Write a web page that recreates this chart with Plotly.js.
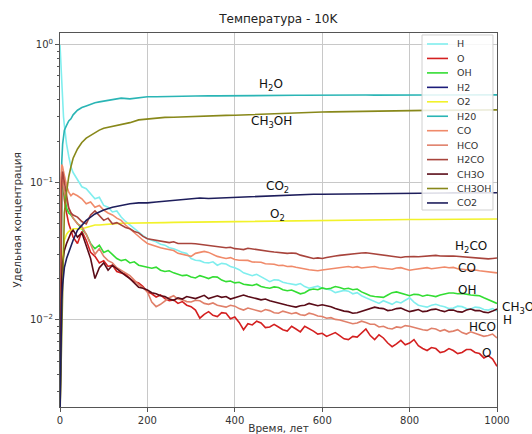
<!DOCTYPE html>
<html><head><meta charset="utf-8">
<script src="https://cdn.plot.ly/plotly-3.0.1.min.js"></script>
<style>html,body{margin:0;padding:0;background:#fff}#chart{width:532px;height:434px}</style>
</head><body><div id="chart"></div>
<script>
// time grid for the noisy species
const T_N = [0,2,4,6,8,10,15,20,25,
  30,40,50,60,70,80,90,100,110,120,
  130,140,150,160,170,180,190,200,210,220,
  230,240,250,260,270,280,290,300,310,320,
  330,340,350,360,370,380,390,400,410,420,
  430,440,450,460,470,480,490,500,510,520,
  530,540,550,560,570,580,590,600,610,620,
  630,640,650,660,670,680,690,700,710,720,
  730,740,750,760,770,780,790,800,810,820,
  830,840,850,860,870,880,890,900,910,920,
  930,940,950,960,970,980,990,1000];
// time grid for the smooth species
const T_S = [0,2,4,6,8,10,15,20,25,30,40,50,60,70,80,90,100,120,140,160,180,200,220,240,260,280,300,320,340,360,380,400,420,440,460,480,500,520,540,560,580,600,620,640,660,680,700,720,740,760,780,800,820,840,860,880,900,920,940,960,980,1000];

const H = [1.0,0.7,0.5,0.37,0.3,0.26,0.19,0.155,0.13,
  0.118,0.104,0.093,0.09,0.082,0.076,0.078,0.068,0.066,0.061,
  0.062,0.056,0.052,0.049,0.046,0.043,0.041,0.039,0.038,0.037,
  0.0355,0.035,0.0335,0.033,0.032,0.031,0.0305,0.028,0.0272,0.027,
  0.0262,0.026,0.0265,0.025,0.0258,0.0255,0.0245,0.024,0.0232,0.022,
  0.0215,0.021,0.0215,0.0205,0.0198,0.019,0.0196,0.0195,0.0188,0.0185,
  0.0182,0.018,0.0184,0.0175,0.017,0.0172,0.0176,0.017,0.0168,0.0165,
  0.0158,0.016,0.0164,0.0162,0.0155,0.0158,0.015,0.0145,0.014,0.0135,
  0.0132,0.0138,0.0134,0.013,0.0136,0.0133,0.0139,0.0145,0.0135,0.0128,
  0.0126,0.0124,0.0128,0.013,0.0127,0.0125,0.0121,0.0122,0.0126,0.0125,
  0.0121,0.012,0.0124,0.0123,0.0119,0.0118,0.0121,0.0116];
const O = [0.002,0.08,0.12,0.11,0.09,0.075,0.06,0.05,0.045,
  0.04,0.036,0.044,0.038,0.031,0.029,0.026,0.027,0.0245,0.025,
  0.0225,0.022,0.0215,0.02,0.019,0.0186,0.0175,0.016,0.0155,0.0147,
  0.0152,0.0143,0.0138,0.014,0.0132,0.0136,0.0128,0.0125,0.0118,0.0103,
  0.011,0.0115,0.0108,0.0106,0.0113,0.0112,0.0102,0.0105,0.0096,0.0085,
  0.0094,0.0092,0.0098,0.0095,0.0088,0.0089,0.0093,0.0089,0.0085,0.0083,
  0.009,0.0086,0.0082,0.009,0.0087,0.0083,0.0079,0.008,0.0076,0.0078,
  0.0081,0.0077,0.0073,0.0072,0.0076,0.0075,0.0081,0.0086,0.0077,0.0072,
  0.0078,0.0074,0.0068,0.0064,0.0067,0.0071,0.0066,0.0068,0.0072,0.0065,
  0.0062,0.006,0.0063,0.0062,0.0058,0.0059,0.0062,0.006,0.0057,0.0058,
  0.0061,0.0061,0.0058,0.0057,0.0053,0.0055,0.0052,0.0046];
const OH = [0.002,0.05,0.09,0.1,0.09,0.08,0.065,0.06,0.058,
  0.055,0.05,0.046,0.042,0.036,0.033,0.035,0.031,0.032,0.03,
  0.028,0.027,0.0275,0.026,0.0265,0.025,0.0245,0.024,0.0238,0.0242,
  0.023,0.0225,0.0228,0.022,0.0215,0.021,0.0212,0.0205,0.0202,0.021,
  0.0205,0.02,0.0206,0.0205,0.0195,0.019,0.0192,0.0186,0.0188,0.0182,
  0.018,0.0178,0.0182,0.0175,0.0172,0.017,0.0174,0.0172,0.0166,0.0163,
  0.0165,0.016,0.0155,0.0158,0.0165,0.0168,0.0166,0.0171,0.0168,0.017,
  0.0175,0.0172,0.0168,0.017,0.0166,0.0168,0.016,0.0155,0.015,0.0148,
  0.0147,0.0146,0.0152,0.0158,0.016,0.0156,0.0152,0.015,0.0154,0.0153,
  0.0149,0.0152,0.015,0.0148,0.0152,0.0155,0.0157,0.0157,0.0155,0.0156,
  0.0153,0.0152,0.0151,0.015,0.0145,0.014,0.0135,0.0132];
const H2_T = [0,1000];
const H2 = [0.001,0.001];
const O2 = [0.002,0.01,0.02,0.028,0.034,0.038,0.042,0.044,0.045,0.046,0.046,0.046,0.047,0.048,0.049,0.049,0.0495,0.05,0.0505,0.0505,0.0505,0.0505,0.051,0.051,0.0512,0.0513,0.0515,0.0515,0.0517,0.0518,0.052,0.052,0.0522,0.0523,0.0525,0.0526,0.0527,0.0528,0.053,0.053,0.0531,0.0532,0.0533,0.0534,0.0534,0.0535,0.0535,0.0536,0.0536,0.0537,0.0537,0.0538,0.0538,0.0539,0.0539,0.054,0.054,0.054,0.0541,0.0541,0.0542,0.0542];
const H2O = [0.002,0.06,0.14,0.19,0.22,0.24,0.26,0.28,0.29,0.31,0.335,0.35,0.36,0.37,0.38,0.385,0.39,0.4,0.41,0.405,0.415,0.42,0.42,0.422,0.424,0.423,0.425,0.425,0.427,0.426,0.427,0.428,0.428,0.429,0.428,0.429,0.43,0.429,0.43,0.43,0.431,0.43,0.431,0.431,0.43,0.431,0.432,0.431,0.432,0.431,0.432,0.432,0.431,0.432,0.432,0.433,0.432,0.432,0.433,0.432,0.433,0.433];
const CO = [0.002,0.1,0.135,0.13,0.12,0.11,0.095,0.085,0.08,
  0.083,0.08,0.076,0.07,0.072,0.066,0.068,0.063,0.06,0.058,
  0.055,0.053,0.049,0.046,0.043,0.04,0.038,0.036,0.035,0.034,
  0.0335,0.033,0.0325,0.032,0.0305,0.03,0.0295,0.029,0.0305,0.031,
  0.0315,0.031,0.0298,0.029,0.0285,0.028,0.0284,0.0275,0.0272,0.027,
  0.0271,0.0264,0.0262,0.0263,0.0256,0.0255,0.0254,0.0249,0.025,0.0245,
  0.0246,0.0242,0.0238,0.0236,0.0232,0.023,0.0228,0.0231,0.0233,0.0235,
  0.0239,0.024,0.0244,0.0245,0.0241,0.0244,0.0239,0.024,0.0243,0.0245,
  0.024,0.0238,0.0236,0.0234,0.0239,0.024,0.0235,0.023,0.0233,0.0235,
  0.0239,0.024,0.0236,0.0238,0.0242,0.0243,0.024,0.0241,0.0236,0.0235,
  0.0232,0.023,0.0231,0.0228,0.0226,0.0226,0.0222,0.022];
const HCO = [0.002,0.07,0.11,0.1,0.095,0.085,0.075,0.065,0.06,
  0.055,0.05,0.048,0.042,0.036,0.03,0.033,0.029,0.027,0.026,
  0.024,0.023,0.022,0.021,0.0195,0.018,0.0172,0.016,0.0135,0.0125,
  0.013,0.0138,0.0145,0.015,0.0142,0.014,0.0136,0.0135,0.0139,0.0138,
  0.0132,0.013,0.0133,0.0128,0.0126,0.0124,0.0128,0.0126,0.0121,0.0118,
  0.0122,0.012,0.0117,0.0115,0.0119,0.0117,0.0113,0.0112,0.0116,0.0114,
  0.0111,0.0113,0.0109,0.0108,0.0112,0.011,0.0107,0.0106,0.0103,0.0104,
  0.0101,0.01,0.0098,0.0097,0.0094,0.0095,0.0098,0.0096,0.0093,0.0093,
  0.0089,0.009,0.0087,0.0086,0.0089,0.0088,0.0091,0.009,0.0088,0.0087,
  0.0085,0.0084,0.0087,0.0086,0.0083,0.0085,0.0082,0.0083,0.0085,0.0081,
  0.0079,0.0082,0.008,0.0078,0.0076,0.0077,0.0079,0.0074];
const H2CO = [0.002,0.06,0.1,0.12,0.11,0.1,0.08,0.065,0.06,
  0.058,0.056,0.052,0.05,0.058,0.062,0.057,0.053,0.055,0.05,
  0.051,0.049,0.047,0.046,0.044,0.043,0.0405,0.039,0.0385,0.038,
  0.0375,0.037,0.0365,0.037,0.036,0.036,0.0362,0.036,0.0358,0.0355,
  0.0352,0.035,0.0348,0.0345,0.034,0.0335,0.0338,0.033,0.0328,0.0325,
  0.0332,0.0328,0.0323,0.032,0.0318,0.0315,0.0312,0.031,0.0308,0.0305,
  0.0307,0.0305,0.0296,0.029,0.0284,0.028,0.0283,0.028,0.0285,0.029,
  0.0292,0.0295,0.0298,0.03,0.0303,0.0305,0.0307,0.0308,0.0305,0.0302,
  0.0298,0.0295,0.0292,0.029,0.0287,0.0285,0.0288,0.029,0.0289,0.0288,
  0.0289,0.029,0.0293,0.0295,0.0292,0.029,0.0291,0.0292,0.029,0.0288,
  0.0286,0.0285,0.0283,0.028,0.0279,0.0278,0.028,0.0282];
const CH3O = [0.002,0.01,0.02,0.026,0.03,0.032,0.036,0.04,0.043,
  0.045,0.04,0.043,0.034,0.028,0.02,0.024,0.026,0.023,0.025,
  0.0235,0.022,0.021,0.02,0.0185,0.0173,0.017,0.0165,0.0158,0.0155,
  0.015,0.0148,0.0142,0.0139,0.0145,0.0142,0.0148,0.0146,0.0143,0.0147,
  0.0151,0.0143,0.0147,0.015,0.0146,0.0148,0.0142,0.0145,0.015,0.0152,
  0.0148,0.0146,0.0143,0.014,0.0142,0.0138,0.0135,0.0132,0.013,0.0128,
  0.0126,0.0124,0.0127,0.0128,0.0132,0.013,0.0127,0.0129,0.0127,0.0125,
  0.0121,0.0118,0.0116,0.0115,0.0112,0.0113,0.0116,0.0118,0.0121,0.0124,
  0.0122,0.0121,0.0117,0.0118,0.0121,0.0122,0.0118,0.0115,0.0117,0.0119,
  0.0115,0.0116,0.0119,0.012,0.0117,0.0115,0.0118,0.0118,0.0115,0.0114,
  0.0118,0.012,0.0117,0.0117,0.0114,0.0113,0.0116,0.012];
const CH3OH = [0.002,0.004,0.01,0.025,0.045,0.06,0.085,0.11,0.13,0.15,0.175,0.195,0.21,0.22,0.23,0.24,0.248,0.255,0.262,0.272,0.285,0.29,0.295,0.297,0.298,0.3,0.3,0.301,0.303,0.305,0.307,0.308,0.31,0.312,0.313,0.315,0.316,0.318,0.32,0.321,0.323,0.325,0.326,0.327,0.328,0.329,0.33,0.33,0.331,0.332,0.332,0.333,0.333,0.334,0.334,0.335,0.335,0.336,0.336,0.336,0.337,0.337];
const CO2 = [0.002,0.008,0.014,0.018,0.021,0.024,0.028,0.031,0.035,0.038,0.045,0.049,0.053,0.056,0.059,0.061,0.063,0.066,0.068,0.07,0.071,0.071,0.072,0.073,0.074,0.075,0.076,0.077,0.0765,0.077,0.0775,0.078,0.0785,0.079,0.0795,0.08,0.0805,0.081,0.081,0.0815,0.082,0.082,0.0822,0.0824,0.0826,0.0828,0.083,0.083,0.0832,0.0833,0.0834,0.0835,0.0836,0.0837,0.0838,0.0838,0.0839,0.084,0.084,0.084,0.0841,0.0841];

const NAMES = ['H','O','OH','H2','O2','H20','CO','HCO','H2CO','CH3O','CH3OH','CO2'];
const SERIES = [H,O,OH,H2,O2,H2O,CO,HCO,H2CO,CH3O,CH3OH,CO2];
const TIMES = [T_N,T_N,T_N,H2_T,T_S,T_S,T_N,T_N,T_N,T_N,T_S,T_S];
const COLORS = ['#80eeee','#d42020','#33dd33','#1c1c7a','#f2f22a','#2ab5b5','#f08a6a','#e0806a','#a8443c','#5a0c18','#88881a','#1e1e5c'];

const LABELS = ['H<sub>2</sub>O','CH<sub>3</sub>OH','CO<sub>2</sub>','O<sub>2</sub>','H<sub>2</sub>CO','CO','OH','CH<sub>3</sub>O','H','HCO','O'];
const LABEL_X = [482,485,497,497,940,931,931,1008,1010,966,975];
const LABEL_Y = [0.512,0.275,0.0927,0.058,0.034,0.0239,0.0165,0.0122,0.0100,0.0089,0.0058];
const LABEL_ANCHOR = ['center','center','center','center','center','center','center','left','left','center','center'];

const traces = SERIES.map((s,i)=>({
  x: TIMES[i], y: s, name: NAMES[i], type:'scatter', mode:'lines',
  line:{color:COLORS[i], width:1.6}, showlegend:false
}));

const annotations = LABELS.map((t,i)=>{
  const out = LABEL_X[i] > 1000;
  return {
    x: out ? LABEL_X[i]/1000 : LABEL_X[i], xref: out ? 'paper' : 'x',
    y: Math.log10(LABEL_Y[i]), yref:'y', text:t, showarrow:false,
    xanchor: LABEL_ANCHOR[i], yanchor:'middle', font:{size:12, color:'#111', family:'DejaVu Sans'}
  };
});

// hand-built legend (matplotlib-style compact rows)
const LEG = {x0:0.8284, x1:0.9908, y0:0.5267, y1:0.9947, lineX0:0.8398, lineX1:0.8879, textX:0.9039, rowTop:0.9706, rowStep:0.03864};
const shapes = [{type:'rect', xref:'paper', yref:'paper', x0:LEG.x0, x1:LEG.x1, y0:LEG.y0, y1:LEG.y1,
  fillcolor:'rgba(255,255,255,0.85)', line:{color:'#d0d0d0', width:1}, layer:'above'}];
NAMES.forEach((n,i)=>{
  const yy = LEG.rowTop - i*LEG.rowStep;
  shapes.push({type:'line', xref:'paper', yref:'paper', x0:LEG.lineX0, x1:LEG.lineX1, y0:yy, y1:yy,
    line:{color:COLORS[i], width:1.6}, layer:'above'});
  annotations.push({xref:'paper', yref:'paper', x:LEG.textX, y:yy, text:n, showarrow:false,
    xanchor:'left', yanchor:'middle', font:{size:9.5, color:'#333', family:'DejaVu Sans'}});
});

const layout = {
  width:532, height:434,
  margin:{l:60, r:35, t:33, b:27, pad:0},
  paper_bgcolor:'#fff', plot_bgcolor:'#fff',
  font:{family:'DejaVu Sans', size:10, color:'#333'},
  title:{text:'Температура - 10K', x:0.523, xanchor:'center', y:0.957, yanchor:'middle', font:{size:12, color:'#222'}},
  xaxis:{range:[0,1000], tickvals:[0,200,400,600,800,1000], showgrid:true, gridcolor:'#c8c8c8',
    showline:true, linecolor:'#555', mirror:true, ticks:'outside', ticklen:4, tickcolor:'#555',
    zeroline:false, automargin:false,
    title:{text:'Время, лет', standoff:4, font:{size:10.5}}},
  yaxis:{type:'log', range:[Math.log10(0.00233), Math.log10(1.22)],
    tickvals:[1,0.1,0.01], ticktext:['10<sup>0</sup>','10<sup>−1</sup>','10<sup>−2</sup>'],
    showgrid:true, gridcolor:'#c8c8c8', showline:true, linecolor:'#555', mirror:true,
    ticks:'outside', ticklen:4, tickcolor:'#555', zeroline:false, automargin:false,
    minor:{ticks:'outside', ticklen:2, tickcolor:'#555', showgrid:false, dtick:'D1'},
    title:{text:'Удельная концентрация', standoff:6, font:{size:10.5}}},
  showlegend:false,
  shapes: shapes,
  annotations: annotations
};

Plotly.newPlot('chart', traces, layout, {displayModeBar:false, staticPlot:true});
</script></body></html>
